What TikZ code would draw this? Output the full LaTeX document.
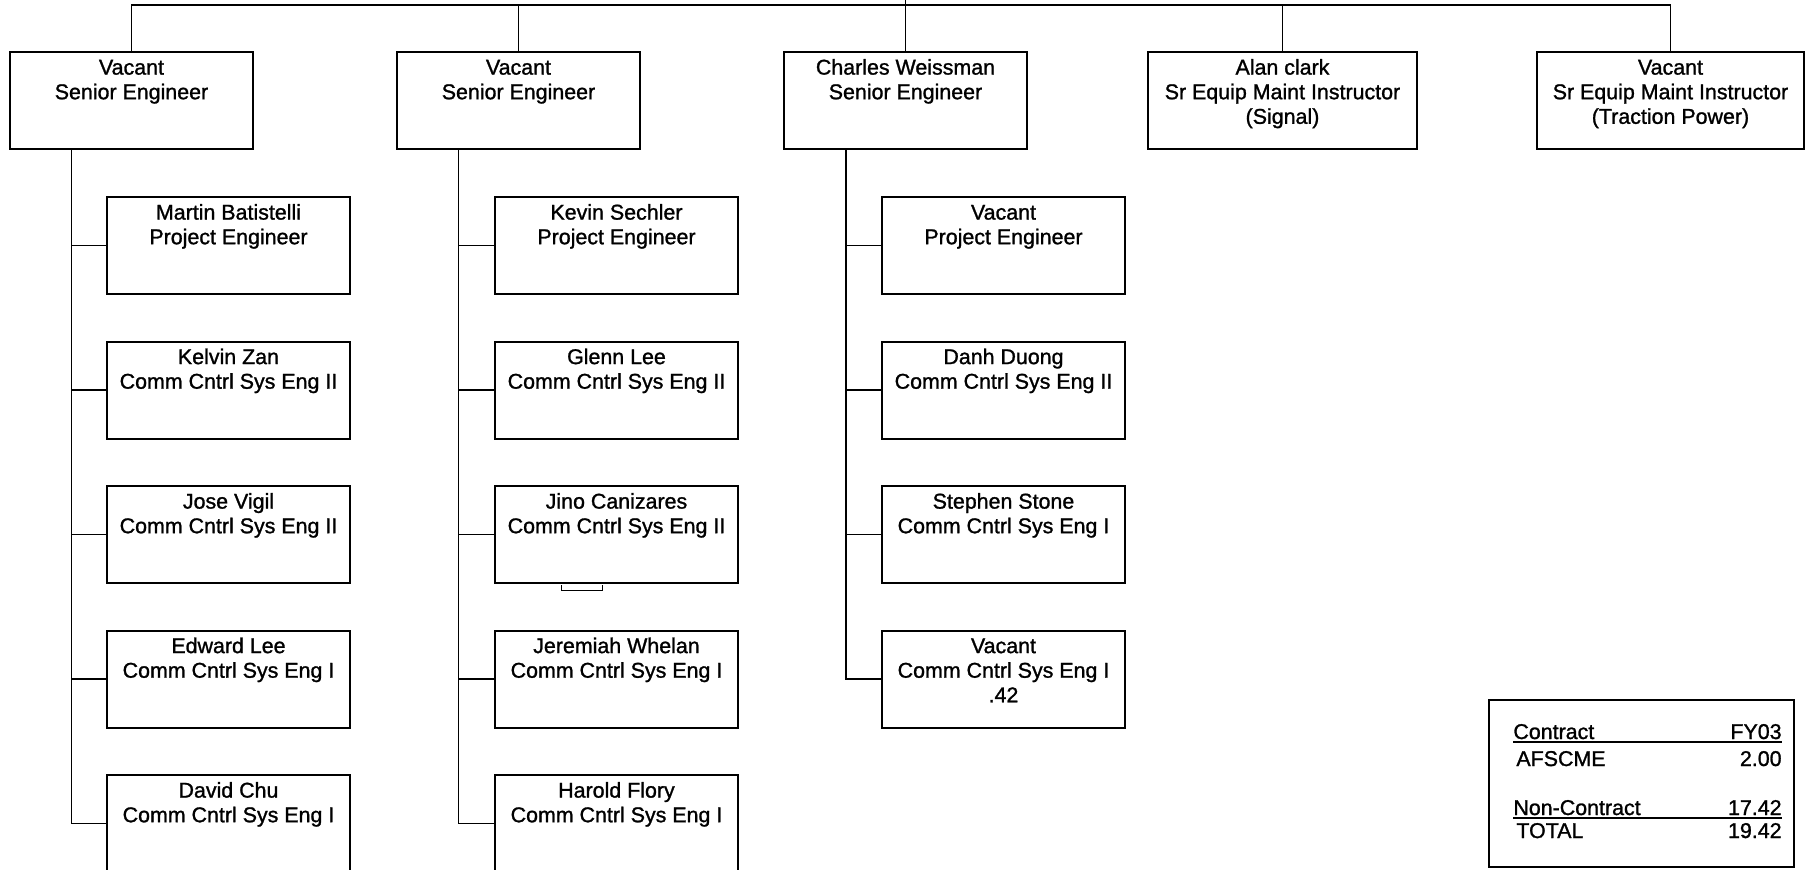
\documentclass[tikz,border=0pt]{standalone}
\usepackage{fontspec}
\setmainfont{Liberation Sans}[FakeBold=1.2]
\newcommand\bt[2]{\begin{minipage}[c][48.5pt][t]{#1}\centering\rule{0pt}{11.3pt}#2\end{minipage}}
\tikzset{
  box/.style={draw, line width=1pt, inner sep=0pt, font=\fontsize{10.7pt}{12.3pt}\selectfont},
  conn/.style={draw, line width=0.6pt},
  txt/.style={inner sep=0pt, font=\fontsize{10.7pt}{12.3pt}\selectfont}
}
\begin{document}
\begin{tikzpicture}[x=0.5pt, y=-0.5pt]
\useasboundingbox (0,0) rectangle (1806,869);
\clip (0,0) rectangle (1806,869);
% top row
\node[box] (T1) at (131.5,100.5) {\bt{121.5pt}{Vacant\\Senior Engineer}};
\node[box] (T2) at (518.5,100.5) {\bt{121.5pt}{Vacant\\Senior Engineer}};
\node[box] (T3) at (905.5,100.5) {\bt{121.5pt}{Charles Weissman\\Senior Engineer}};
\node[box] (T4) at (1282.5,100.5) {\bt{134.5pt}{Alan clark\\Sr Equip Maint Instructor\\(Signal)}};
\node[box] (T5) at (1670.5,100.5) {\bt{133.5pt}{Vacant\\Sr Equip Maint Instructor\\(Traction Power)}};
% column 1
\node[box] (a1) at (228.5,245.5) {\bt{121.5pt}{Martin Batistelli\\Project Engineer}};
\node[box] (a2) at (228.5,390) {\bt{121.5pt}{Kelvin Zan\\Comm Cntrl Sys Eng II}};
\node[box] (a3) at (228.5,534.5) {\bt{121.5pt}{Jose Vigil\\Comm Cntrl Sys Eng II}};
\node[box] (a4) at (228.5,679) {\bt{121.5pt}{Edward Lee\\Comm Cntrl Sys Eng I}};
\node[box] (a5) at (228.5,823.5) {\bt{121.5pt}{David Chu\\Comm Cntrl Sys Eng I}};
% column 2
\node[box] (b1) at (616.5,245.5) {\bt{121.5pt}{Kevin Sechler\\Project Engineer}};
\node[box] (b2) at (616.5,390) {\bt{121.5pt}{Glenn Lee\\Comm Cntrl Sys Eng II}};
\node[box] (b3) at (616.5,534.5) {\bt{121.5pt}{Jino Canizares\\Comm Cntrl Sys Eng II}};
\node[box] (b4) at (616.5,679) {\bt{121.5pt}{Jeremiah Whelan\\Comm Cntrl Sys Eng I}};
\node[box] (b5) at (616.5,823.5) {\bt{121.5pt}{Harold Flory\\Comm Cntrl Sys Eng I}};
% column 3
\node[box] (c1) at (1003.5,245.5) {\bt{121.5pt}{Vacant\\Project Engineer}};
\node[box] (c2) at (1003.5,390) {\bt{121.5pt}{Danh Duong\\Comm Cntrl Sys Eng II}};
\node[box] (c3) at (1003.5,534.5) {\bt{121.5pt}{Stephen Stone\\Comm Cntrl Sys Eng I}};
\node[box] (c4) at (1003.5,679) {\bt{121.5pt}{Vacant\\Comm Cntrl Sys Eng I\\.42}};
% top bus
\coordinate (busR) at (1670.5,5);
\coordinate (topin) at (905.5,0);
\draw[conn] (T1.north) |- (busR) -- (T5.north);
\draw[conn] (T2.north) -- (T2.north |- busR);
\draw[conn] (T4.north) -- (T4.north |- busR);
\draw[conn] (topin) -- (T3.north);
% brackets
\coordinate (ja) at (71.5,149);
\coordinate (jb) at (458.5,149);
\coordinate (jc) at (846,149);
\draw[conn] (ja) |- (a5.west);
\draw[conn] (jb) |- (b5.west);
\draw[conn] (jc) |- (c4.west);
\foreach \n in {a1,a2,a3,a4}{\draw[conn] (ja |- \n.west) -- (\n.west);}
\foreach \n in {b1,b2,b3,b4}{\draw[conn] (jb |- \n.west) -- (\n.west);}
\foreach \n in {c1,c2,c3}{\draw[conn] (jc |- \n.west) -- (\n.west);}
% small mark under Jino Canizares
\coordinate (m1) at (561,585);
\coordinate (m2) at (602,585);
\draw[line width=0.5pt] (m1) -- ++(0,5) -| (m2);
% summary box
\node[draw, line width=1pt, inner sep=0pt, minimum width=152.5pt, minimum height=83.5pt] (sum) at (1641.5,783.5) {};
\node[txt, anchor=base west] (s1) at (1513,739) {Contract};
\node[txt, anchor=base east] (s2) at (1782,739) {FY03};
\node[txt, anchor=base west] (s3) at (1516,766) {AFSCME};
\node[txt, anchor=base east] (s4) at (1782,766) {2.00};
\node[txt, anchor=base west] (s5) at (1513,815) {Non-Contract};
\node[txt, anchor=base east] (s6) at (1782,815) {17.42};
\node[txt, anchor=base west] (s7) at (1516,838) {TOTAL};
\node[txt, anchor=base east] (s8) at (1782,838) {19.42};
\draw[conn] ([yshift=-1.5pt]s1.base west) -- ([yshift=-1.5pt]s2.base east);
\draw[conn] ([yshift=-1.5pt]s5.base west) -- ([yshift=-1.5pt]s6.base east);
\end{tikzpicture}
\end{document}
